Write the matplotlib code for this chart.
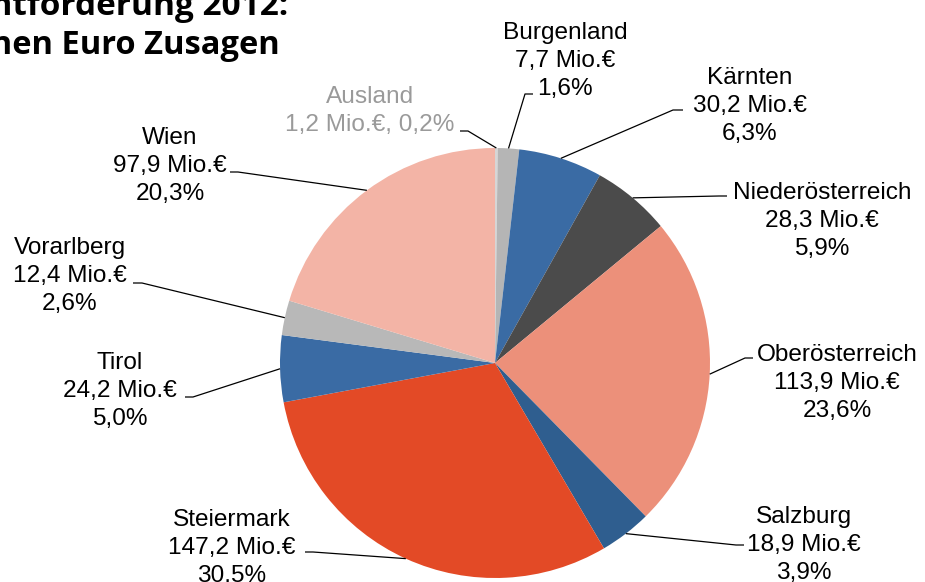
import numpy as np
import matplotlib
matplotlib.use("Agg")
import matplotlib.pyplot as plt

# Daten: Förderzusagen 2012 nach Bundesland
regionen = ["Ausland", "Burgenland", "Kärnten", "Niederösterreich", "Oberösterreich",
            "Salzburg", "Steiermark", "Tirol", "Vorarlberg", "Wien"]
mio_euro = [1.2, 7.7, 30.2, 28.3, 113.9, 18.9, 147.2, 24.2, 12.4, 97.9]
prozent = [0.2, 1.6, 6.3, 5.9, 23.6, 3.9, 30.5, 5.0, 2.6, 20.3]

farben = ["#d6d6d6", "#b5b5b5", "#3a6ba4", "#4b4b4b", "#ec907a",
          "#2f5e8f", "#e34a26", "#3a6ba4", "#b8b8b8", "#f3b4a6"]

W, H = 925, 582
cx, cy, r = 495, 363, 215

# Label-Layout (Pixel, y von oben): Textmitte, Start der Führungslinie, Knick
text_pos = {
    "Ausland": (370, 111),
    "Burgenland": (565, 61),
    "Kärnten": (750, 106),
    "Niederösterreich": (822, 221),
    "Oberösterreich": (837, 383),
    "Salzburg": (804, 545),
    "Steiermark": (232, 548),
    "Tirol": (120, 391),
    "Vorarlberg": (70, 276),
    "Wien": (170, 166),
}
leader = {
    "Ausland": ((460, 131), (468, 131)),
    "Burgenland": ((533, 94), (525, 94)),
    "Kärnten": ((683, 110), (673, 110)),
    "Niederösterreich": ((727, 196), (719, 196)),
    "Oberösterreich": ((753, 358), (745, 358)),
    "Salzburg": ((744, 545), (736, 545)),
    "Steiermark": ((305, 552), (313, 552)),
    "Tirol": ((185, 397), (193, 397)),
    "Vorarlberg": ((133, 283), (142, 283)),
    "Wien": ((230, 172), (238, 172)),
}


def fmt(v):
    return f"{v:.1f}".replace(".", ",")


fig = plt.figure(figsize=(W / 100, H / 100), dpi=100)
ax = fig.add_axes([0, 0, 1, 1])

wedges, _ = ax.pie(prozent, colors=farben, startangle=90, counterclock=False,
                   center=(cx, H - cy), radius=r, frame=True,
                   wedgeprops=dict(linewidth=0))
ax.set_xlim(0, W)
ax.set_ylim(0, H)
ax.axis("off")

font = "Liberation Sans"
for w, name, v, p in zip(wedges, regionen, mio_euro, prozent):
    mid = np.deg2rad((w.theta1 + w.theta2) / 2)
    ex, ey = w.center[0] + r * np.cos(mid), w.center[1] + r * np.sin(mid)
    (sx, sy), (kx, ky) = leader[name]
    ax.plot([sx, kx, ex], [H - sy, H - ky, ey], color="black", lw=0.9,
            solid_capstyle="butt")
    tx, ty = text_pos[name]
    if name == "Ausland":
        txt = f"{name}\n{fmt(v)} Mio.€, {fmt(p)}%"
        col = "#9a9a9a"
    else:
        txt = f"{name}\n{fmt(v)} Mio.€\n{fmt(p)}%"
        col = "black"
    ax.text(tx, H - ty, txt, ha="center", va="center", fontsize=17.6,
            family=font, color=col, linespacing=1.36)

# Titel (links oben angeschnitten wie im Original)
ax.text(288, H - 15, "Gesamtförderung 2012:", ha="right", va="baseline",
        fontsize=24, fontweight="bold", family="Open Sans", color="black")
ax.text(280, H - 54, "482 Millionen Euro Zusagen", ha="right", va="baseline",
        fontsize=23.5, fontweight="bold", family="Open Sans", color="black")

fig.savefig("out.png", dpi=100)
